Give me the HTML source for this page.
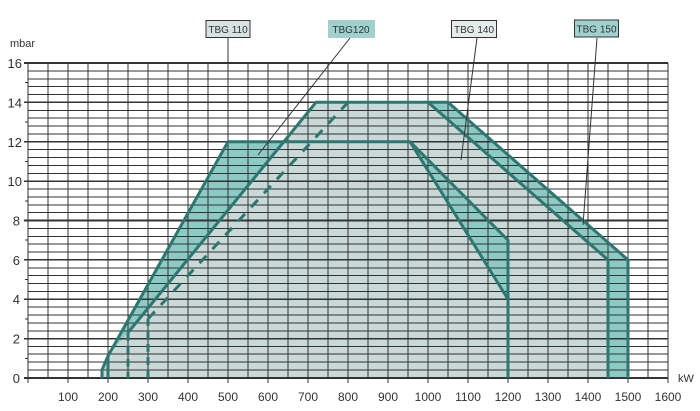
<!DOCTYPE html>
<html><head><meta charset="utf-8"><style>
body{margin:0;background:#fff}
svg{display:block}
text{font-family:"Liberation Sans",sans-serif;fill:#333}
</style></head><body>
<svg width="700" height="411" viewBox="0 0 700 411" xmlns="http://www.w3.org/2000/svg">
<polygon points="102,378 102,370 108,356 128,332.7 316,102.3 428,102.3 608,259.9 608,378" fill="#c9d9d7"/>
<polygon points="108,356 228,141.7 284,141.7 128,332.7" fill="#8ccac5"/>
<polygon points="410,141.7 508,240.2 508,299.2" fill="#8ccac5"/>
<polygon points="428,102.3 448,102.3 628,259.9 628,378 608,378 608,259.9" fill="#8ccac5"/>
<g stroke="#333" fill="none" shape-rendering="crispEdges">
<path stroke-width="1" d="M28 63V378M48 63V378M68 63V378M88 63V378M108 63V378M128 63V378M148 63V378M168 63V378M188 63V378M208 63V378M228 63V378M248 63V378M268 63V378M288 63V378M308 63V378M328 63V378M348 63V378M368 63V378M388 63V378M408 63V378M428 63V378M448 63V378M468 63V378M488 63V378M508 63V378M528 63V378M548 63V378M568 63V378M588 63V378M608 63V378M628 63V378M648 63V378M668 63V378"/>
<path stroke-width="1" d="M28 370H668M28 362H668M28 354H668M28 346.5H668M28 330.75H668M28 323H668M28 315H668M28 307H668M28 291.4H668M28 283.5H668M28 275.6H668M28 267.75H668M28 252H668M28 244H668M28 236.25H668M28 228.4H668M28 212.6H668M28 204.75H668M28 196.9H668M28 189H668M28 173.25H668M28 165.4H668M28 157.5H668M28 149.6H668M28 133.9H668M28 126H668M28 118H668M28 110.25H668M28 94.5H668M28 86.6H668M28 78.75H668M28 70.9H668"/>
<path stroke-width="1.6" d="M24 378H668M24 338.6H668M24 299.25H668M24 259.9H668M24 220.5H668M24 181.1H668M24 141.75H668M24 102.4H668M24 63H668"/>
<path stroke-width="1" d="M25 358.3H28M25 319H28M25 279.6H28M25 240.2H28M25 200.8H28M25 161.4H28M25 122H28M25 82.7H28"/>
<path stroke-width="1" d="M28 378V383M68 378V383M108 378V383M148 378V383M188 378V383M228 378V383M268 378V383M308 378V383M348 378V383M388 378V383M428 378V383M468 378V383M508 378V383M548 378V383M588 378V383M628 378V383M668 378V383"/>
</g>
<g fill="none" stroke="#2e7770" stroke-width="3" stroke-linejoin="round">
<polyline points="102,378 102,370 108,356 228,141.7 410,141.7 508,299.2 508,378"/>
<polyline points="410,141.7 508,240.2 508,299.2"/>
<polyline points="108,356 108,378"/>
<polyline points="128,332.7 316,102.3 448,102.3 628,259.9 628,378"/>
<polyline points="428,102.3 608,259.9 608,378"/>
<line x1="128" y1="332.7" x2="128" y2="378" stroke-dasharray="8,5"/>
<line x1="148" y1="378" x2="148" y2="318.9" stroke-dasharray="8,5"/>
<line x1="148" y1="318.9" x2="348" y2="102.3" stroke-dasharray="10,9"/>
</g>
<g stroke="#333" stroke-width="1">
<line x1="228" y1="37" x2="228" y2="141"/>
<line x1="248" y1="190" x2="248" y2="298"/>
<line x1="350" y1="38" x2="258" y2="155"/>
<line x1="477" y1="38" x2="461" y2="160"/>
<line x1="597" y1="38" x2="583" y2="225"/>
</g>
<rect x="206" y="20.5" width="44" height="17" fill="#d6e3e2" stroke="#333" stroke-width="1"/>
<text x="228" y="33" font-size="10" text-anchor="middle">TBG 110</text>
<rect x="328.5" y="20.5" width="46" height="17" fill="#9fd1cd" stroke="#8ab" stroke-width="0.5"/>
<text x="351" y="33" font-size="10" text-anchor="middle">TBG120</text>
<rect x="451.5" y="20.5" width="45" height="17" fill="#e6ecec" stroke="#333" stroke-width="1"/>
<text x="474" y="33" font-size="10" text-anchor="middle">TBG 140</text>
<rect x="574.5" y="20" width="44" height="17" fill="#9fd1cd" stroke="#333" stroke-width="1"/>
<text x="596.5" y="32.5" font-size="10" text-anchor="middle">TBG 150</text>
<text x="10" y="47" font-size="11">mbar</text>
<g font-size="13" text-anchor="end">
<text x="20" y="383">0</text><text x="20" y="343.6">2</text><text x="20" y="304.2">4</text><text x="20" y="264.9">6</text>
<text x="20" y="225.5">8</text><text x="22" y="186.1">10</text><text x="22" y="146.8">12</text><text x="22" y="107.4">14</text><text x="22" y="68">16</text>
</g>
<g font-size="12" text-anchor="middle">
<text x="68" y="401">100</text><text x="108" y="401">200</text><text x="148" y="401">300</text><text x="188" y="401">400</text>
<text x="228" y="401">500</text><text x="268" y="401">600</text><text x="308" y="401">700</text><text x="348" y="401">800</text>
<text x="388" y="401">900</text><text x="428" y="401">1000</text><text x="468" y="401">1100</text><text x="508" y="401">1200</text>
<text x="548" y="401">1300</text><text x="588" y="401">1400</text><text x="628" y="401">1500</text><text x="668" y="401">1600</text>
</g>
<text x="678" y="382" font-size="11">kW</text>
</svg>
</body></html>
